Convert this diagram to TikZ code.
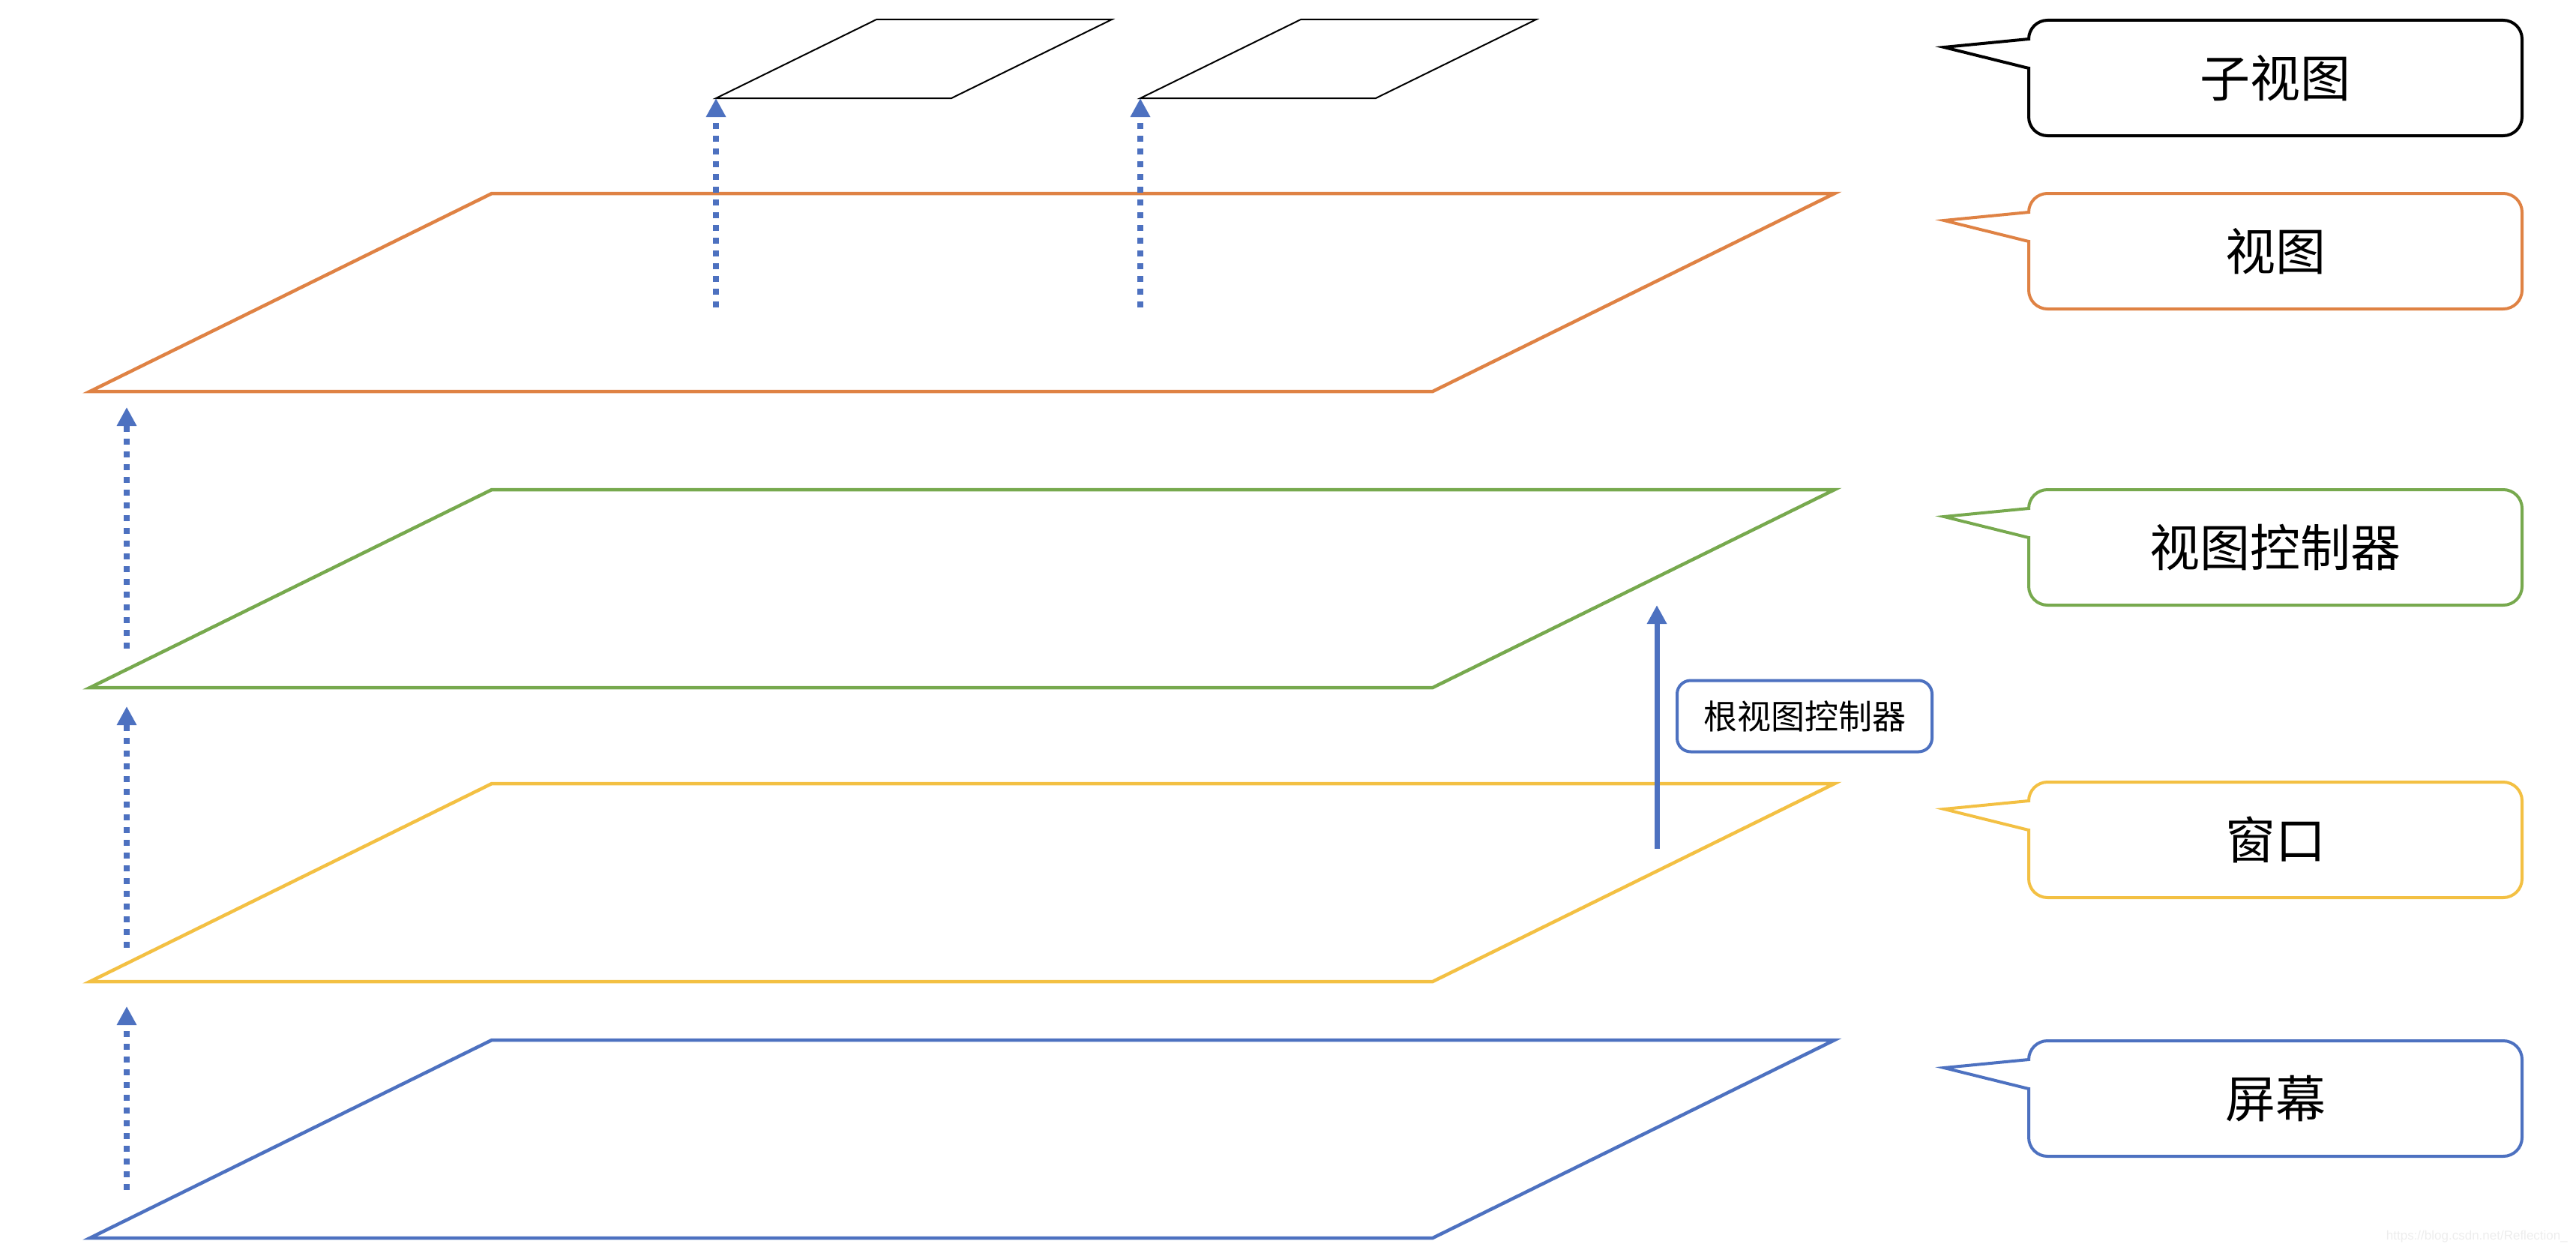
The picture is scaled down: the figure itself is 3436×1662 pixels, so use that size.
\documentclass[tikz,border=0pt]{standalone}
\usepackage{fontspec}
\newfontfamily\cjk{Noto Sans CJK SC}
\newfontfamily\wmfont{Liberation Sans}
\usetikzlibrary{arrows.meta,calc}
\definecolor{cOrange}{HTML}{DF8244}
\definecolor{cGreen}{HTML}{77A94E}
\definecolor{cYellow}{HTML}{F3C043}
\definecolor{cBlue}{HTML}{4D71C0}
\definecolor{cWm}{HTML}{EDEDED}
\tikzset{
  layer/.style={line width=4.5pt, line join=miter},
  subview/.style={line width=2pt, draw=black, line join=miter},
  dotarrow/.style={draw=cBlue, line width=8pt, dash pattern=on 8pt off 9pt,
    -{Triangle[width=25pt,length=25pt]}},
  solidarrow/.style={draw=cBlue, line width=7pt, -{Triangle[width=25pt,length=25pt]}},
  callbox/.style={draw, line width=4pt, rounded corners=25pt, minimum width=658pt,
    minimum height=154pt, anchor=north west, inner sep=0pt, outer sep=0pt,
    font=\cjk\fontsize{67}{70}\selectfont, text=black},
  pointer/.style={line width=4pt, line join=miter},
}
\newcommand{\callpointer}[2]{%
  \fill[white] ($(#1.north west)+(-3,27)$) rectangle ($(#1.north west)+(3,62)$);
  \draw[pointer,#2] ($(#1.north west)+(0,25)$) -- ($(#1.north west)+(-113,36)$) -- ($(#1.north west)+(0,64)$);
}
\begin{document}
\begin{tikzpicture}[x=1pt,y=-1pt]
\useasboundingbox (0,0) rectangle (3436,1662);

% layers
\draw[layer,cOrange] (120,522) -- (1911,522) -- (2447,258) -- (656,258) -- cycle;
\draw[layer,cGreen]  (120,917) -- (1911,917) -- (2447,653) -- (656,653) -- cycle;
\draw[layer,cYellow] (120,1309) -- (1911,1309) -- (2447,1045) -- (656,1045) -- cycle;
\draw[layer,cBlue]   (120,1651) -- (1911,1651) -- (2447,1387) -- (656,1387) -- cycle;

% subviews
\coordinate (sv1) at (955,131);
\coordinate (sv2) at (1521,131);
\draw[subview] (sv1) -- ++(314,0) -- ++(214,-105) -- ++(-314,0) -- cycle;
\draw[subview] (sv2) -- ++(314,0) -- ++(214,-105) -- ++(-314,0) -- cycle;

% arrow end points
\coordinate (a1s) at (169,865);  \coordinate (a1e) at (169,543);
\coordinate (a2s) at (169,1264); \coordinate (a2e) at (169,942);
\coordinate (a3s) at (169,1587); \coordinate (a3e) at (169,1342);
\coordinate (t1s) at (955,410);
\coordinate (t2s) at (1521,410);
\coordinate (rs) at (2210,1132); \coordinate (re) at (2210,807);

\draw[dotarrow] (a1s) -- (a1e);
\draw[dotarrow] (a2s) -- (a2e);
\draw[dotarrow] (a3s) -- (a3e);
\draw[dotarrow] (t1s) -- (sv1);
\draw[dotarrow] (t2s) -- (sv2);
\draw[solidarrow] (rs) -- (re);

% root view controller label
\node[draw=cBlue, line width=4pt, rounded corners=18pt, minimum width=340pt,
  minimum height=95pt, inner sep=0pt, font=\cjk\fontsize{45}{48}\selectfont]
  (rvc) at (2407,955) {根视图控制器};

% callouts
\node[callbox, draw=black] (cSub) at (2706,27) {子视图};
\callpointer{cSub}{black}
\node[callbox, draw=cOrange] (cView) at (2706,258) {视图};
\callpointer{cView}{cOrange}
\node[callbox, draw=cGreen] (cVC) at (2706,653) {视图控制器};
\callpointer{cVC}{cGreen}
\node[callbox, draw=cYellow] (cWin) at (2706,1043) {窗口};
\callpointer{cWin}{cYellow}
\node[callbox, draw=cBlue] (cScr) at (2706,1388) {屏幕};
\callpointer{cScr}{cBlue}

% watermark
\node[font=\wmfont\fontsize{17}{20}\selectfont, text=cWm, anchor=base east, inner sep=0pt]
  (wm) at (3425,1653) {https://blog.csdn.net/Reflection\_};
\end{tikzpicture}
\end{document}
